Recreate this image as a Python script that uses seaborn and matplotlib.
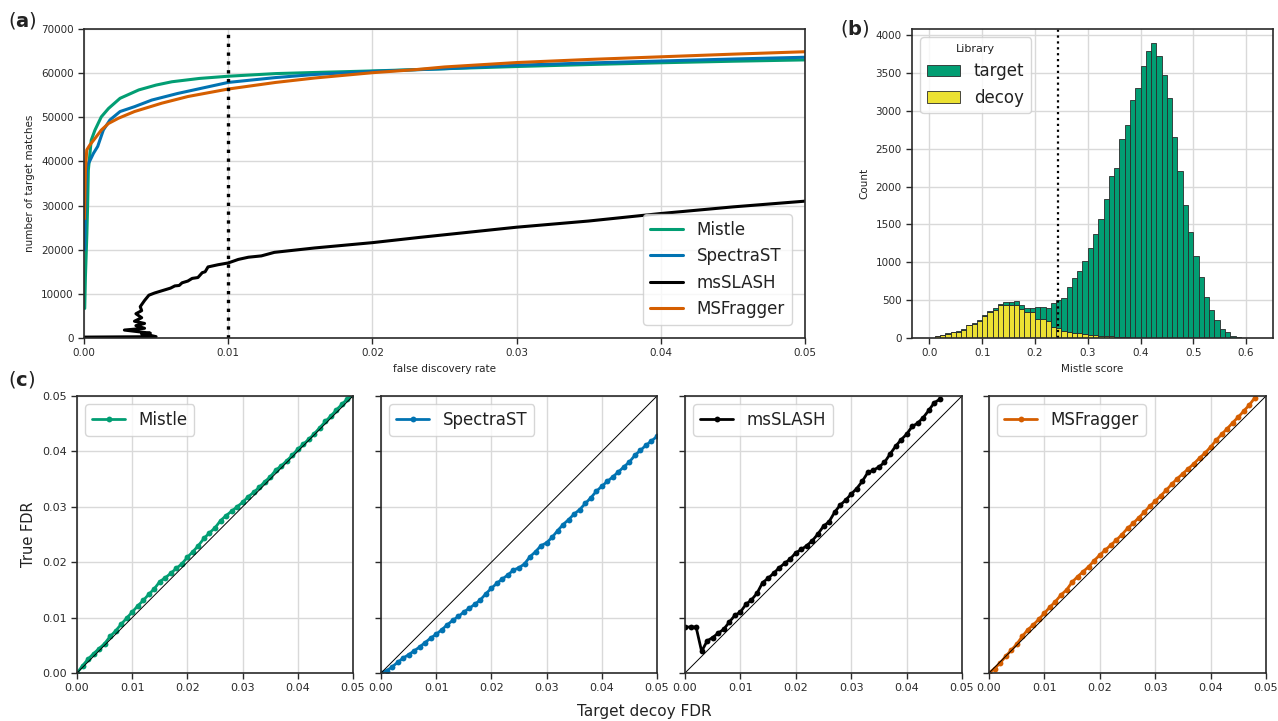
import numpy as np
import pandas as pd
import matplotlib
matplotlib.use("Agg")
import matplotlib.pyplot as plt
import seaborn as sns

# ---------------- data ----------------
tools = ["Mistle", "SpectraST", "msSLASH", "MSFragger"]
colors = {"Mistle": "#029E73", "SpectraST": "#0173B2", "msSLASH": "#000000", "MSFragger": "#D55E00"}

# panel (a): number of target matches vs FDR
mistle_fdr = [0.00005, 0.0001, 0.0002, 0.00025, 0.0003, 0.0005, 0.00076, 0.0012, 0.0017, 0.0025, 0.0038,
              0.0050, 0.0061, 0.0080, 0.0100, 0.0133, 0.0160, 0.0200, 0.0250, 0.0300, 0.0350, 0.0400, 0.0450, 0.0500]
mistle_n = [6700, 14000, 23700, 30000, 38000, 44800, 47100, 50100, 52000, 54300, 56200,
            57300, 58050, 58800, 59300, 59900, 60150, 60500, 61000, 61500, 61950, 62350, 62700, 63000]
spectrast_fdr = [0.00005, 0.0001, 0.00018, 0.00043, 0.00065, 0.00095, 0.00134, 0.0018, 0.0025, 0.0035, 0.0047,
                 0.0065, 0.0086, 0.0100, 0.0133, 0.0160, 0.0200, 0.0250, 0.0300, 0.0350, 0.0400, 0.0450, 0.0500]
spectrast_n = [20000, 30000, 38800, 40300, 41800, 43400, 47100, 49400, 51300, 52400, 53900,
               55400, 56900, 57900, 59000, 59700, 60400, 61000, 61800, 62300, 62750, 63200, 63600]
msslash_fdr = [0.0000, 0.0050, 0.0046, 0.0040, 0.0046, 0.0028, 0.0042, 0.0036, 0.0042, 0.0035, 0.0040, 0.0036,
               0.0040, 0.0039, 0.0042, 0.0045, 0.0049, 0.0056, 0.0060, 0.0063, 0.0066, 0.0068, 0.0072, 0.0075,
               0.0079, 0.0082, 0.0084, 0.0086, 0.0093, 0.0100, 0.0107, 0.0114, 0.0123, 0.0132, 0.0160, 0.0200,
               0.0233, 0.0300, 0.0350, 0.0400, 0.0450, 0.0500]
msslash_n = [200, 300, 600, 900, 1100, 1800, 2200, 2800, 3300, 3800, 4600, 5500,
             6200, 7100, 8500, 9700, 10200, 10900, 11300, 11800, 11900, 12500, 12900, 13500,
             13700, 14800, 15000, 16100, 16600, 17000, 17800, 18300, 18600, 19400, 20400, 21600,
             22800, 25100, 26500, 28200, 29700, 31000]
msfragger_fdr = [0.00003, 0.0001, 0.00019, 0.0004, 0.00076, 0.0012, 0.0017, 0.0024, 0.0035, 0.0054, 0.0072,
                 0.0100, 0.0133, 0.0160, 0.0200, 0.0230, 0.0250, 0.0300, 0.0350, 0.0400, 0.0450, 0.0500]
msfragger_n = [27000, 38000, 42600, 43700, 45200, 47100, 48600, 49800, 51300, 53200, 54700,
               56400, 57900, 58900, 60100, 60800, 61400, 62400, 63100, 63700, 64300, 64850]

# panel (b): Mistle score histogram (bin width 0.01 starting at 0.0)
bin_edges = [round(0.01 * i, 2) for i in range(61)]
target_counts = [0, 2, 4, 4, 4, 3, 4, 6, 5, 13, 9, 11, 27, 13, 48, 39, 57, 52, 52, 61,
                 162, 159, 180, 312, 378, 437, 594, 732, 818, 967, 1139, 1339, 1540, 1812, 2111, 2225,
                 2608, 2805, 3138, 3294, 3590, 3784, 3891, 3724, 3470, 3175, 2656, 2199, 1755, 1398,
                 1086, 805, 545, 374, 233, 123, 75, 31, 13, 5]
decoy_counts = [5, 20, 40, 58, 75, 85, 110, 170, 188, 220, 290, 345, 369, 440, 431, 431, 435, 383, 339, 339,
                251, 246, 220, 150, 128, 97, 84, 66, 62, 53, 44, 35, 30, 26, 22, 18,
                13, 9, 6, 4, 3, 2, 1, 1, 0, 0, 0, 0, 0, 0,
                0, 0, 0, 0, 0, 0, 0, 0, 0, 0]
score_threshold = 0.243
fdr_threshold = 0.01

# panel (c): true FDR vs target-decoy FDR
td_fdr = [round(0.001 * i, 3) for i in range(51)]
true_mistle = [0.0000, 0.0013, 0.0025, 0.0035, 0.0044, 0.0053, 0.0066, 0.0076, 0.0088, 0.0099,
               0.0110, 0.0121, 0.0131, 0.0142, 0.0152, 0.0165, 0.0172, 0.0180, 0.0189, 0.0197,
               0.0209, 0.0219, 0.0230, 0.0243, 0.0253, 0.0262, 0.0275, 0.0284, 0.0292, 0.0300,
               0.0308, 0.0318, 0.0326, 0.0335, 0.0345, 0.0354, 0.0366, 0.0374, 0.0383, 0.0393,
               0.0404, 0.0413, 0.0422, 0.0432, 0.0443, 0.0454, 0.0464, 0.0475, 0.0485, 0.0495, 0.0502]
true_spectrast = [0.0000, 0.0004, 0.0011, 0.0019, 0.0027, 0.0033, 0.0040, 0.0047, 0.0055, 0.0063,
                  0.0070, 0.0078, 0.0087, 0.0095, 0.0102, 0.0110, 0.0117, 0.0124, 0.0132, 0.0143,
                  0.0153, 0.0162, 0.0170, 0.0177, 0.0186, 0.0190, 0.0197, 0.0210, 0.0219, 0.0230,
                  0.0235, 0.0245, 0.0257, 0.0268, 0.0277, 0.0287, 0.0295, 0.0306, 0.0316, 0.0328,
                  0.0337, 0.0346, 0.0354, 0.0363, 0.0372, 0.0381, 0.0393, 0.0402, 0.0411, 0.0419, 0.0427]
true_msslash = [0.0083, 0.0083, 0.0083, 0.0039, 0.0058, 0.0064, 0.0072, 0.0079, 0.0092, 0.0104,
                0.0110, 0.0124, 0.0132, 0.0144, 0.0163, 0.0171, 0.0180, 0.0190, 0.0198, 0.0206,
                0.0217, 0.0223, 0.0230, 0.0239, 0.0251, 0.0265, 0.0273, 0.0290, 0.0303, 0.0312,
                0.0323, 0.0333, 0.0346, 0.0362, 0.0366, 0.0372, 0.0380, 0.0395, 0.0409, 0.0421,
                0.0431, 0.0445, 0.0451, 0.0461, 0.0474, 0.0488, 0.0494]
true_msfragger = [0.0000, 0.0008, 0.0018, 0.0030, 0.0041, 0.0052, 0.0066, 0.0078, 0.0087, 0.0097,
                  0.0108, 0.0119, 0.0129, 0.0141, 0.0150, 0.0164, 0.0174, 0.0183, 0.0192, 0.0203,
                  0.0213, 0.0222, 0.0231, 0.0240, 0.0250, 0.0261, 0.0270, 0.0280, 0.0290, 0.0301,
                  0.0310, 0.0320, 0.0330, 0.0341, 0.0351, 0.0360, 0.0369, 0.0378, 0.0388, 0.0397,
                  0.0408, 0.0420, 0.0431, 0.0441, 0.0452, 0.0462, 0.0473, 0.0484, 0.0497]

# ---------------- style ----------------
sns.set_theme(style="whitegrid")
plt.rcParams.update({
    "font.family": ["DejaVu Sans"],
    "axes.edgecolor": "#2a2a2a",
    "axes.linewidth": 1.2,
    "grid.color": "#d9d9d9",
    "grid.linewidth": 1.0,
    "xtick.bottom": True,
    "ytick.left": True,
    "xtick.major.size": 4,
    "ytick.major.size": 4,
    "xtick.major.width": 1.0,
    "ytick.major.width": 1.0,
    "xtick.color": "#2a2a2a",
    "ytick.color": "#2a2a2a",
    "xtick.labelsize": 7.5,
    "ytick.labelsize": 7.5,
    "axes.labelsize": 7.5,
    "text.color": "#222222",
    "axes.labelcolor": "#222222",
})

W, H = 1278, 721
fig = plt.figure(figsize=(W / 100, H / 100), dpi=100)


def box(l, t, r, b):
    return [l / W, 1 - b / H, (r - l) / W, (b - t) / H]


# ---------------- panel (a) ----------------
ax_a = fig.add_axes(box(84, 29, 805, 338))
frames = []
for name, f, n in [("Mistle", mistle_fdr, mistle_n), ("SpectraST", spectrast_fdr, spectrast_n),
                   ("msSLASH", msslash_fdr, msslash_n), ("MSFragger", msfragger_fdr, msfragger_n)]:
    frames.append(pd.DataFrame({"fdr": f, "matches": n, "tool": name}))
df_a = pd.concat(frames, ignore_index=True)
sns.lineplot(data=df_a, x="fdr", y="matches", hue="tool", hue_order=tools, palette=colors,
             sort=False, estimator=None, units="tool", linewidth=2.2, ax=ax_a)
ax_a.axvline(fdr_threshold, color="black", linestyle=":", linewidth=2.4)
ax_a.set_xlim(0, 0.05)
ax_a.set_ylim(0, 70000)
ax_a.set_xticks([0.0, 0.01, 0.02, 0.03, 0.04, 0.05])
ax_a.set_xticklabels(["0.00", "0.01", "0.02", "0.03", "0.04", "0.05"])
ax_a.set_yticks(range(0, 70001, 10000))
ax_a.set_xlabel("false discovery rate")
ax_a.set_ylabel("number of target matches")
ax_a.legend(loc="lower right", fontsize=12, frameon=True, borderaxespad=0.8)

# ---------------- panel (b) ----------------
ax_b = fig.add_axes(box(912, 29, 1273, 338))
centers = [round(e + 0.005, 3) for e in bin_edges[:-1]]
df_b = pd.concat([
    pd.DataFrame({"score": centers, "count": target_counts, "Library": "target"}),
    pd.DataFrame({"score": centers, "count": decoy_counts, "Library": "decoy"}),
], ignore_index=True)
sns.histplot(data=df_b, x="score", weights="count", hue="Library", hue_order=["target", "decoy"],
             multiple="stack", bins=bin_edges, palette={"target": "#029E73", "decoy": "#ECE133"},
             alpha=1, edgecolor="#2b2b2b", linewidth=0.6, ax=ax_b)
ax_b.axvline(score_threshold, color="black", linestyle=":", linewidth=1.6)
ax_b.set_xlim(-0.033, 0.651)
ax_b.set_ylim(0, 4080)
ax_b.set_xticks([0.0, 0.1, 0.2, 0.3, 0.4, 0.5, 0.6])
ax_b.set_yticks(range(0, 4001, 500))
ax_b.set_xlabel("Mistle score")
ax_b.set_ylabel("Count")
sns.move_legend(ax_b, "upper left", fontsize=12, title_fontsize=8, frameon=True, borderaxespad=0.5)

# ---------------- panel (c) ----------------
c_lefts = [(77, 353), (381, 657), (685, 962), (989, 1266)]
c_values = {"Mistle": true_mistle, "SpectraST": true_spectrast, "msSLASH": true_msslash,
            "MSFragger": true_msfragger}
for i, name in enumerate(tools):
    l, r = c_lefts[i]
    ax = fig.add_axes(box(l, 396, r, 673))
    vals = c_values[name]
    sns.lineplot(x=td_fdr[:len(vals)], y=vals, color=colors[name], marker="o", markersize=4.2,
                 markeredgewidth=0, linestyle="-", linewidth=2, label=name, ax=ax)
    ax.axline((0, 0), slope=1, color="black", linewidth=0.7)
    ax.set_xlim(0, 0.05)
    ax.set_ylim(0, 0.05)
    ticks = [0.0, 0.01, 0.02, 0.03, 0.04, 0.05]
    ax.set_xticks(ticks)
    ax.set_xticklabels(["0.00", "0.01", "0.02", "0.03", "0.04", "0.05"], fontsize=8)
    ax.set_yticks(ticks)
    if i == 0:
        ax.set_yticklabels(["0.00", "0.01", "0.02", "0.03", "0.04", "0.05"], fontsize=8)
        ax.set_ylabel("True FDR", fontsize=10.5)
    else:
        ax.set_yticklabels([])
    ax.legend(loc="upper left", fontsize=12, frameon=True)

fig.text(0.504, 0.003, "Target decoy FDR", ha="center", va="bottom", fontsize=11)

# panel labels
fig.text(0.006, 0.972, r"($\mathbf{a}$)", fontsize=14, va="center", ha="left")
fig.text(0.657, 0.961, r"($\mathbf{b}$)", fontsize=14, va="center", ha="left")
fig.text(0.006, 0.473, r"($\mathbf{c}$)", fontsize=14, va="center", ha="left")

fig.savefig("out.png", dpi=100)
